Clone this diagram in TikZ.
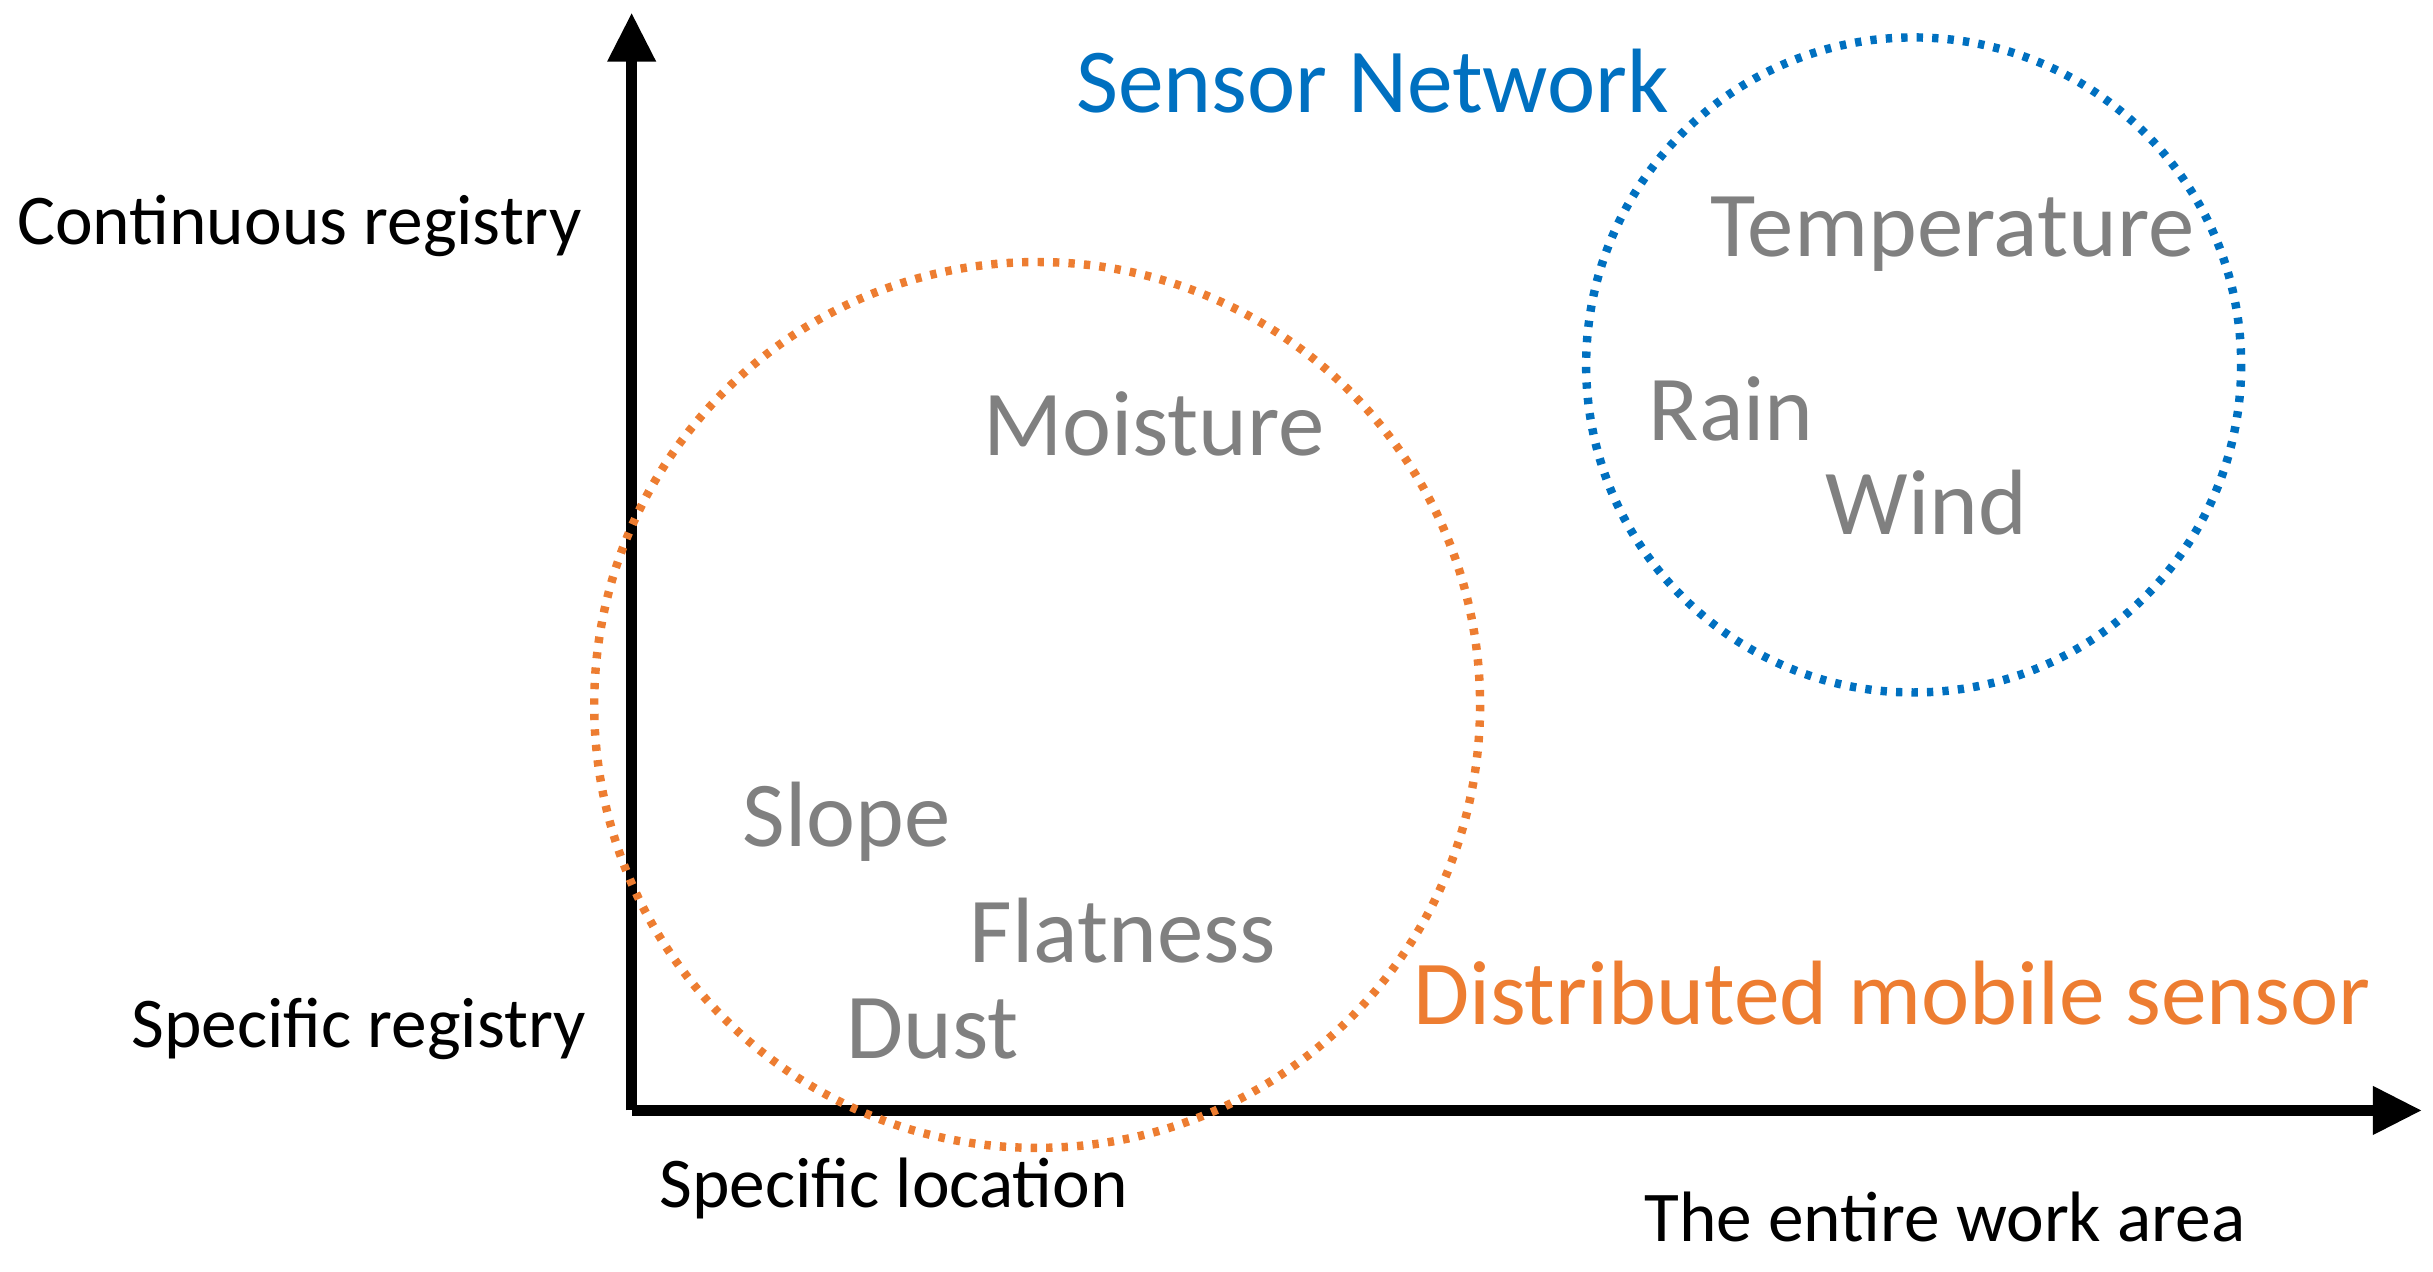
\documentclass[tikz,border=0pt]{standalone}
\usepackage{fontspec}
\setmainfont{Carlito}
\usetikzlibrary{arrows.meta,positioning}
\definecolor{netblue}{RGB}{0,112,192}
\definecolor{mobileorange}{RGB}{237,125,49}
\definecolor{vargray}{RGB}{128,128,128}

\begin{document}
\begin{tikzpicture}[x=0.0156cm, y=-0.0156cm,
    axislabel/.style={font=\fontsize{20.3}{24}\selectfont},
    measure/.style={text=vargray, font=\fontsize{26.4}{30}\selectfont},
    zone/.style={line width=2.4pt, dash pattern=on 1.8pt off 2.6pt}]
    \useasboundingbox (0,0) rectangle (1560,815);

    % axes
    \coordinate (origin) at (405,712);
    \coordinate (ytop) at (405,8);
    \coordinate (xend) at (1553,712);
    \draw[line width=3.2pt, -{Triangle[length=14pt,width=13pt]}] (origin) -- (ytop);
    \draw[line width=3.2pt, -{Triangle[length=14pt,width=13pt]}] (origin) -- (xend);

    % zones
    \draw[zone, mobileorange] (665,452) circle [radius=284];
    \draw[zone, netblue] (1227,234) circle [radius=210];

    % axis labels
    \node[axislabel] (cont) at (192,145) {Continuous registry};
    \node[axislabel] (spec) at (230,660) {Specific registry};
    \node[axislabel] (loc) at (573,762) {Specific location};
    \node[axislabel] (area) at (1247,780) {The entire work area};

    % zone titles
    \node[text=netblue, font=\fontsize{26}{30}\selectfont] (network) at (880,52) {Sensor Network};
    \node[text=mobileorange, font=\fontsize{26}{30}\selectfont] (mobile) at (1213,637) {Distributed mobile sensor};

    % measured quantities
    \node[measure] (temp) at (1252,150) {Temperature};
    \node[measure] (rain) at (1110,262) {Rain};
    \node[measure] (wind) at (1235,322) {Wind};
    \node[measure] (moist) at (740,272) {Moisture};
    \node[measure] (slope) at (543,527) {Slope};
    \node[measure] (flat) at (720,597) {Flatness};
    \node[measure] (dust) at (598,660) {Dust};
\end{tikzpicture}
\end{document}
